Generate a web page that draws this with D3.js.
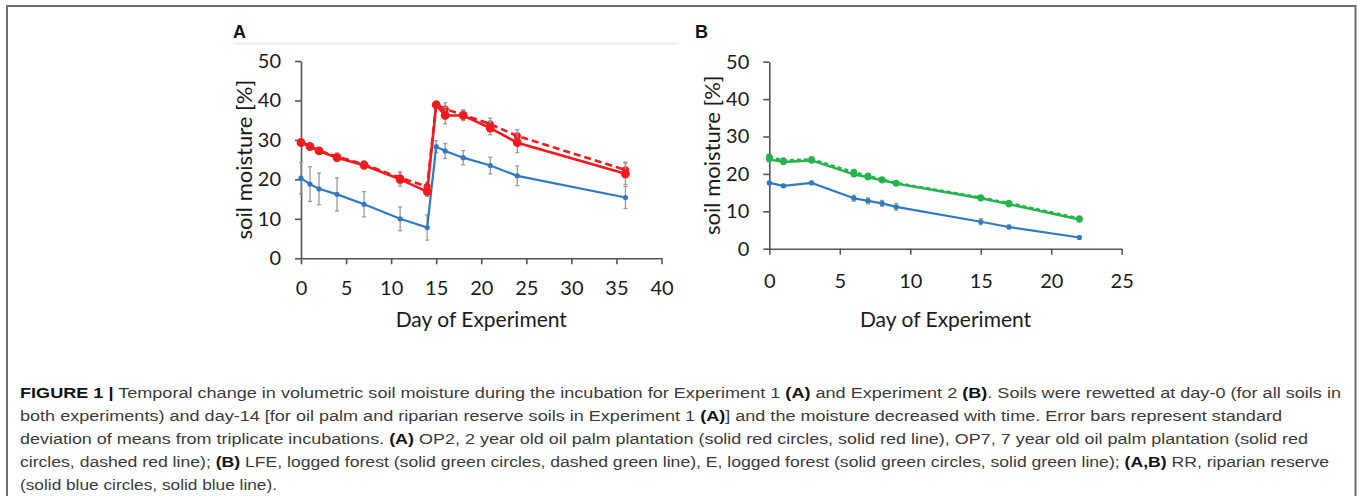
<!doctype html>
<html lang="en">
  <head>
    <meta charset="utf-8">
    <title>Figure 1 · soil moisture</title>
    <script src="https://d3js.org/d3.v7.min.js"></script>
    <style>
      body { margin: 0; background: #fff; }
      .tick text { font-family: Lato, "Open Sans", sans-serif; font-size: 20px; fill: #1a1a1a; }
      .ax-title { font-family: Lato, "Open Sans", sans-serif; font-size: 21px; fill: #1a1a1a; }
      .ax-title.y { font-size: 22px; }
      .panel-lbl { font-family: "Liberation Sans", Arial, sans-serif; font-size: 18px; font-weight: bold; fill: #111; }
      .caption { font-family: "Liberation Sans", Arial, sans-serif; font-size: 15.5px; fill: #3a3a3a; }
      .caption .b { font-weight: bold; fill: #111; }
    </style>
  </head>
  <body>
    <div id="fig"></div>
    <script>
      // ---- data ----
      // panel A (Experiment 1)
      var daysA  = [0, 1, 2, 4, 7, 11, 14, 15, 16, 18, 21, 24, 36];
      var op2    = [29.3, 28.3, 27.2, 25.5, 23.6, 20.0, 16.9, 38.9, 36.2, 36.2, 33.0, 29.3, 21.4];
      var op2Err = [0.8, 0.7, 0.6, 1.0, 1.0, 1.7, 1.2, 0.8, 2.1, 1.3, 1.7, 2.5, 2.7];
      var op7    = [29.5, 28.5, 27.3, 25.8, 23.8, 20.4, 18.2, 39.0, 37.8, 36.4, 34.0, 31.0, 22.4];
      var op7Err = [0.7, 0.6, 0.6, 0.9, 0.9, 1.5, 1.0, 0.8, 1.6, 1.2, 1.5, 1.6, 2.0];
      var rrA    = [20.3, 18.8, 17.6, 16.2, 13.7, 10.0, 7.8, 28.3, 27.2, 25.5, 23.5, 20.9, 15.4];
      var rrAErr = [4.0, 4.4, 4.0, 4.2, 3.2, 3.0, 3.2, 1.5, 1.9, 1.8, 2.1, 2.5, 2.8];
      var xTicksA = [0, 5, 10, 15, 20, 25, 30, 35, 40];

      // panel B (Experiment 2)
      var daysB  = [0, 1, 3, 6, 7, 8, 9, 15, 17, 22];
      var lfe    = [24.6, 23.6, 23.9, 20.5, 19.5, 18.5, 17.6, 13.7, 12.2, 8.1];
      var eSoil  = [23.9, 23.2, 23.6, 19.9, 19.1, 18.3, 17.4, 13.5, 11.9, 7.8];
      var rrB    = [17.6, 16.8, 17.6, 13.5, 12.8, 12.1, 11.2, 7.2, 5.8, 3.0];
      var rrBErr = [0.4, 0.4, 0.4, 0.8, 0.8, 0.8, 0.9, 0.8, 0.5, 0.4];
      var xTicksB = [0, 5, 10, 15, 20, 25];

      var yTicks = [0, 10, 20, 30, 40, 50];

      var captionLines = [
        [["b", "FIGURE 1 |"], ["", " Temporal change in volumetric soil moisture during the incubation for Experiment 1 "], ["b", "(A)"], ["", " and Experiment 2 "], ["b", "(B)"], ["", ". Soils were rewetted at day-0 (for all soils in"]],
        [["", "both experiments) and day-14 [for oil palm and riparian reserve soils in Experiment 1 "], ["b", "(A)"], ["", "] and the moisture decreased with time. Error bars represent standard"]],
        [["", "deviation of means from triplicate incubations. "], ["b", "(A)"], ["", " OP2, 2 year old oil palm plantation (solid red circles, solid red line), OP7, 7 year old oil palm plantation (solid red"]],
        [["", "circles, dashed red line); "], ["b", "(B)"], ["", " LFE, logged forest (solid green circles, dashed green line), E, logged forest (solid green circles, solid green line); "], ["b", "(A,B)"], ["", " RR, riparian reserve"]],
        [["", "(solid blue circles, solid blue line)."]]
      ];

      var RED = "#f4191c", BLUE = "#2f79c3", GREEN = "#25b34b", ERR = "#9a9a9a";

      var W = 1357, H = 496;
      var svg = d3.select("#fig").append("svg")
          .attr("width", W).attr("height", H);

      // frame round the figure
      svg.append("path")
          .attr("d", "M7,496 V6 H1355.5 V496")
          .attr("fill", "none").attr("stroke", "#6e6e6e").attr("stroke-width", 2);

      // faint band under the "A" label
      svg.append("rect").attr("x", 233).attr("y", 42).attr("width", 446).attr("height", 3)
          .attr("fill", "#f1f1f1");

      function pairs(xs, ys, es) {
        return xs.map(function(d, i) { return {x: d, y: ys[i], e: es ? es[i] : 0}; });
      }

      function panel(opt) {
        var x = d3.scaleLinear().domain(opt.xDomain).range(opt.xRange);
        var y = d3.scaleLinear().domain([0, 50]).range(opt.yRange);
        var g = svg.append("g");

        // axes
        g.append("g")
            .attr("transform", "translate(0," + opt.yRange[0] + ")")
            .call(d3.axisBottom(x).tickValues(opt.xTicks).tickSize(6).tickSizeOuter(0).tickPadding(opt.xPad));
        g.append("g")
            .attr("transform", "translate(" + opt.xRange[0] + ",0)")
            .call(d3.axisLeft(y).tickValues(yTicks).tickSize(6).tickSizeOuter(0).tickPadding(14));
        g.selectAll(".domain, .tick line").attr("stroke", "#555").attr("stroke-width", 1.6);

        // axis titles
        g.append("text").attr("class", "ax-title")
            .attr("x", (opt.xRange[0] + opt.xRange[1]) / 2).attr("y", 327)
            .attr("text-anchor", "middle").text("Day of Experiment");
        g.append("text").attr("class", "ax-title y")
            .attr("transform", "translate(" + (opt.xRange[0] - 49) + "," + ((opt.yRange[0] + opt.yRange[1]) / 2) + ") rotate(-90)")
            .attr("text-anchor", "middle").text("soil moisture [%]");

        // panel letter
        g.append("text").attr("class", "panel-lbl")
            .attr("x", opt.lblX).attr("y", 38).text(opt.lbl);

        var line = d3.line().x(function(d) { return x(d.x); }).y(function(d) { return y(d.y); });

        opt.series.forEach(function(s) {
          var pts = pairs(opt.days, s.values, s.err);
          // error bars first so lines sit on top
          if (s.err) {
            var eb = g.append("g").attr("stroke", ERR).attr("stroke-width", 1.3);
            eb.selectAll("line.v").data(pts).enter().append("line")
                .attr("x1", function(d) { return x(d.x); }).attr("x2", function(d) { return x(d.x); })
                .attr("y1", function(d) { return y(d.y - d.e); }).attr("y2", function(d) { return y(d.y + d.e); });
            [-1, 1].forEach(function(sg) {
              eb.selectAll(null).data(pts).enter().append("line")
                  .attr("x1", function(d) { return x(d.x) - 2; }).attr("x2", function(d) { return x(d.x) + 2; })
                  .attr("y1", function(d) { return y(d.y + sg * d.e); }).attr("y2", function(d) { return y(d.y + sg * d.e); });
            });
          }
          g.append("path").datum(pts)
              .attr("d", line)
              .attr("fill", "none")
              .attr("stroke", s.color)
              .attr("stroke-width", s.width)
              .attr("stroke-dasharray", s.dash || null);
          g.selectAll(null).data(pts).enter().append("circle")
              .attr("cx", function(d) { return x(d.x); })
              .attr("cy", function(d) { return y(d.y); })
              .attr("r", s.r)
              .attr("fill", s.color);
        });
      }

      panel({
        lbl: "A", lblX: 233, xPad: 17,
        xDomain: [0, 40], xRange: [301, 661.5], yRange: [258.3, 61],
        xTicks: xTicksA, days: daysA,
        series: [
          {values: rrA, err: rrAErr, color: BLUE, width: 2.2, r: 2.6},
          {values: op7, err: op7Err, color: RED, width: 2.6, r: 3.6, dash: "7,4"},
          {values: op2, err: op2Err, color: RED, width: 2.6, r: 4.4}
        ]
      });

      panel({
        lbl: "B", lblX: 695, xPad: 19,
        xDomain: [0, 25], xRange: [769.3, 1121.7], yRange: [248.7, 61.7],
        xTicks: xTicksB, days: daysB,
        series: [
          {values: rrB, err: rrBErr, color: BLUE, width: 2.2, r: 2.6},
          {values: lfe, color: GREEN, width: 2.4, r: 3.2, dash: "4,3"},
          {values: eSoil, color: GREEN, width: 2.4, r: 3.2}
        ]
      });

      // caption, each line squeezed to the width it has in print
      var cap = svg.append("g").attr("class", "caption");
      var lineY = [398, 421, 444, 467, 490];
      var lineW = [1321, 1262, 1288, 1309, 257];
      captionLines.forEach(function(parts, i) {
        var t = cap.append("text").attr("x", 20).attr("y", lineY[i])
            .attr("textLength", lineW[i]).attr("lengthAdjust", "spacingAndGlyphs");
        parts.forEach(function(p) {
          t.append("tspan").attr("class", p[0] || null).text(p[1]);
        });
      });
    </script>
  </body>
</html>
